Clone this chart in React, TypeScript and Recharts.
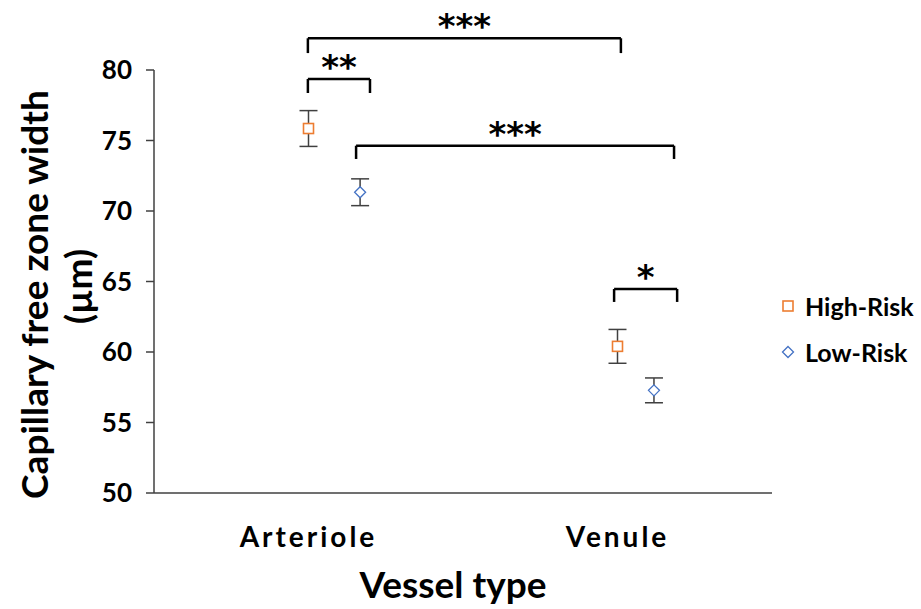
import { ComposedChart, Scatter, XAxis, YAxis, ErrorBar, ReferenceLine, ReferenceDot } from 'recharts'

const CATEGORIES = ['Arteriole', 'Venule']
const CATEGORY_TICKS = [0.5, 1.5]

// x = category index + within-group offset, y = mean, err = SE
const HIGH_RISK = [
  { x: 0.5, y: 75.85, err: 1.27 },
  { x: 1.5, y: 60.4, err: 1.2 },
]
const LOW_RISK = [
  { x: 0.667, y: 71.33, err: 0.95 },
  { x: 1.618, y: 57.28, err: 0.88 },
]

// significance brackets: from x1 to x2, bar height, leg end, label
const BRACKETS = [
  { x1: 0.498, x2: 1.511, top: 82.25, leg: 81.2, text: '***' },
  { x1: 0.498, x2: 0.699, top: 79.36, leg: 78.37, text: '**' },
  { x1: 0.654, x2: 1.683, top: 74.63, leg: 73.69, text: '***' },
  { x1: 1.489, x2: 1.693, top: 64.47, leg: 63.55, text: '*' },
]

const Y_TICKS = [50, 55, 60, 65, 70, 75, 80]

const ORANGE = '#ED7D31'
const BLUE = '#4472C4'
const AXIS = '#404040'
const FONT = 'Lato, "Open Sans", sans-serif'

const SquareMark = ({ cx, cy }: any) => (
  <rect x={cx - 5} y={cy - 5} width={10} height={10} fill="#fff" stroke={ORANGE} strokeWidth={1.6} />
)
const DiamondMark = ({ cx, cy }: any) => (
  <polygon points={`${cx},${cy - 5.5} ${cx + 5.5},${cy} ${cx},${cy + 5.5} ${cx - 5.5},${cy}`} fill="#fff" stroke={BLUE} strokeWidth={1.3} />
)

const YLabel = ({ viewBox }: any) => {
  const cy = viewBox.y + viewBox.height / 2
  return (
    <g fontFamily={FONT} fontWeight={700} fill="#000" fontSize={37}>
      <text transform={`translate(48, ${cy + 13}) rotate(-90)`} textAnchor="middle">Capillary free zone width</text>
      <text transform={`translate(92, ${cy + 5}) rotate(-90)`} textAnchor="middle">(µm)</text>
    </g>
  )
}

const LegendBox = () => (
  <div style={{ position: 'absolute', left: 781, top: 291, fontFamily: FONT, fontWeight: 700, fontSize: 25, color: '#000', lineHeight: '30px' }}>
    <div style={{ display: 'flex', alignItems: 'center', marginBottom: 16 }}>
      <svg width={14} height={14} style={{ marginRight: 10 }}>
        <rect x={2} y={2} width={10} height={10} fill="#fff" stroke={ORANGE} strokeWidth={1.6} />
      </svg>
      High-Risk
    </div>
    <div style={{ display: 'flex', alignItems: 'center' }}>
      <svg width={14} height={14} style={{ marginRight: 10 }}>
        <polygon points="7,1.5 12.5,7 7,12.5 1.5,7" fill="#fff" stroke={BLUE} strokeWidth={1.3} />
      </svg>
      Low-Risk
    </div>
  </div>
)

export default function App() {
  return (
    <div style={{ position: 'absolute', left: 0, top: 0, width: 921, height: 609, background: '#fff' }}>
      <ComposedChart width={921} height={609} margin={{ top: 70, right: 149, left: 0, bottom: 0 }}>
        <XAxis
          type="number"
          dataKey="x"
          domain={[0, 2]}
          ticks={CATEGORY_TICKS}
          tickFormatter={(v: number) => CATEGORIES[Math.round(v - 0.5)]}
          axisLine={{ stroke: AXIS, strokeWidth: 1.5 }}
          tickLine={false}
          tickMargin={28}
          height={116}
          tick={{ fontFamily: FONT, fontWeight: 700, fontSize: 28, fill: '#000', letterSpacing: 3 }}
          label={{ value: 'Vessel type', position: 'insideBottom', offset: 11, dx: -10, fontFamily: FONT, fontWeight: 700, fontSize: 37, fill: '#000' }}
        />
        <YAxis
          type="number"
          dataKey="y"
          domain={[50, 80]}
          ticks={Y_TICKS}
          width={154}
          axisLine={{ stroke: AXIS, strokeWidth: 1.5 }}
          tickLine={{ stroke: AXIS, strokeWidth: 1.5 }}
          tickSize={8}
          tickMargin={14}
          tick={{ fontFamily: FONT, fontWeight: 700, fontSize: 26, fill: '#000' }}
          label={<YLabel />}
        />
        {BRACKETS.map((b, i) => [
          <ReferenceLine key={`l${i}`} ifOverflow="visible" segment={[{ x: b.x1, y: b.leg }, { x: b.x1, y: b.top }]} stroke="#000" strokeWidth={2.5} />,
          <ReferenceLine key={`t${i}`} ifOverflow="visible" segment={[{ x: b.x1, y: b.top }, { x: b.x2, y: b.top }]} stroke="#000" strokeWidth={2.5} />,
          <ReferenceLine key={`r${i}`} ifOverflow="visible" segment={[{ x: b.x2, y: b.top }, { x: b.x2, y: b.leg }]} stroke="#000" strokeWidth={2.5} />,
          <ReferenceDot key={`d${i}`} ifOverflow="visible" x={(b.x1 + b.x2) / 2} y={b.top} r={0} fill="none" stroke="none"
            label={{ value: b.text, position: 'top', offset: 0, fontFamily: '"DejaVu Sans", sans-serif', fontWeight: 700, fontSize: 34, fill: '#000' }} />,
        ])}
        <Scatter name="High-Risk" data={HIGH_RISK} shape={<SquareMark />} isAnimationActive={false}>
          <ErrorBar dataKey="err" direction="y" width={9} stroke={AXIS} strokeWidth={1.5} />
        </Scatter>
        <Scatter name="Low-Risk" data={LOW_RISK} shape={<DiamondMark />} isAnimationActive={false}>
          <ErrorBar dataKey="err" direction="y" width={9} stroke={AXIS} strokeWidth={1.5} />
        </Scatter>
      </ComposedChart>
      <LegendBox />
    </div>
  )
}
